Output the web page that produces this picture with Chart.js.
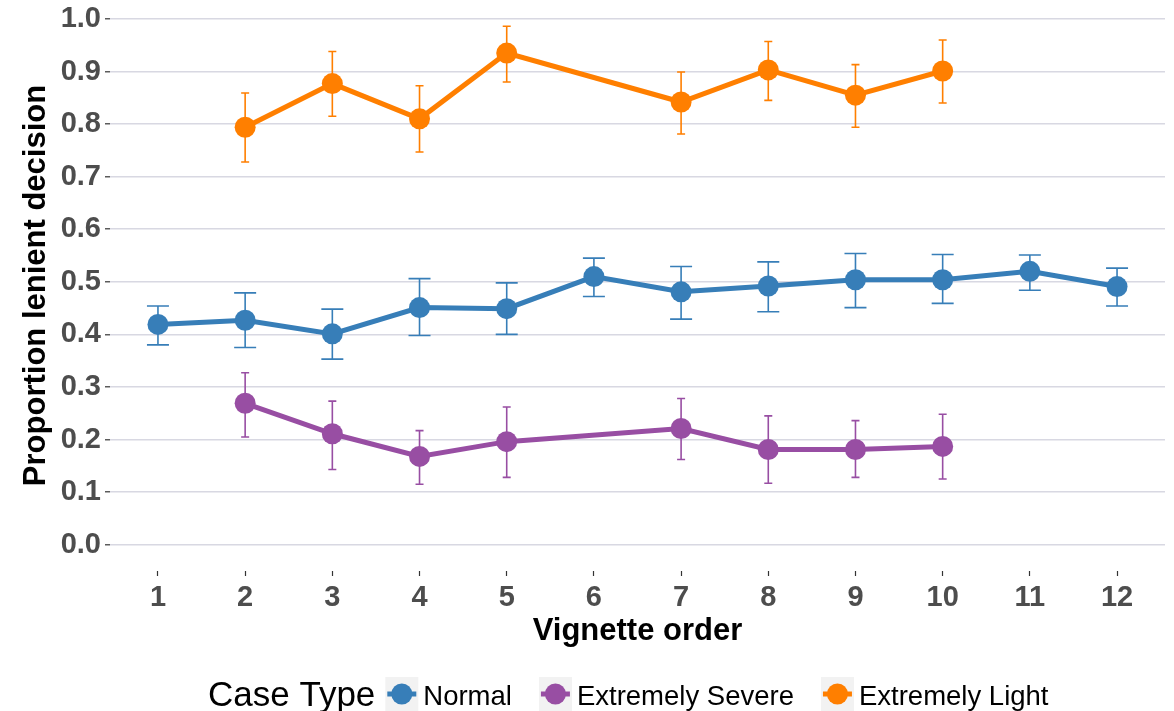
<!DOCTYPE html>
<html>
<head>
<meta charset="utf-8">
<script src="https://cdn.jsdelivr.net/npm/chart.js@4/dist/chart.umd.min.js"></script>
<style>
  html, body { margin: 0; padding: 0; background: #ffffff; }
  #wrap { width: 1174px; height: 711px; }
</style>
</head>
<body>
<div id="wrap"><canvas id="c" width="1174" height="711"></canvas></div>
<script>
// Vignette positions and y-axis ticks
const vignetteOrder = [1, 2, 3, 4, 5, 6, 7, 8, 9, 10, 11, 12];
const yTicks = [0.0, 0.1, 0.2, 0.3, 0.4, 0.5, 0.6, 0.7, 0.8, 0.9, 1.0];

// Normal cases (all 12 positions)
const normalX = [1, 2, 3, 4, 5, 6, 7, 8, 9, 10, 11, 12];
const normalMean = [0.419, 0.427, 0.401, 0.451, 0.449, 0.510, 0.481, 0.492, 0.504, 0.504, 0.520, 0.491];
const normalLow  = [0.380, 0.375, 0.353, 0.398, 0.400, 0.472, 0.429, 0.443, 0.451, 0.459, 0.484, 0.454];
const normalHigh = [0.454, 0.479, 0.448, 0.506, 0.498, 0.545, 0.529, 0.538, 0.554, 0.552, 0.551, 0.526];

// Extremely severe cases
const severeX = [2, 3, 4, 5, 7, 8, 9, 10];
const severeMean = [0.269, 0.211, 0.168, 0.196, 0.221, 0.181, 0.181, 0.187];
const severeLow  = [0.205, 0.143, 0.115, 0.128, 0.162, 0.117, 0.128, 0.125];
const severeHigh = [0.327, 0.273, 0.217, 0.262, 0.278, 0.245, 0.236, 0.248];

// Extremely light cases
const lightX = [2, 3, 4, 5, 7, 8, 9, 10];
const lightMean = [0.794, 0.877, 0.810, 0.935, 0.842, 0.903, 0.855, 0.901];
const lightLow  = [0.728, 0.815, 0.747, 0.880, 0.781, 0.845, 0.794, 0.840];
const lightHigh = [0.859, 0.938, 0.873, 0.986, 0.899, 0.957, 0.913, 0.960];

const FONT = "'Liberation Sans', Arial, sans-serif";

function pts(xs, ys) { return xs.map((x, i) => ({ x: x, y: ys[i] })); }

function series(label, color, xs, mean, low, high, capWidth) {
  return {
    label: label,
    data: pts(xs, mean),
    errLow: low,
    errHigh: high,
    capWidth: capWidth,
    showLine: true,
    borderColor: color,
    backgroundColor: color,
    borderWidth: 5,
    pointRadius: 10.5,
    pointHoverRadius: 10.5,
    pointBorderWidth: 0,
    pointBackgroundColor: color,
    tension: 0
  };
}

// Vertical error bars with caps, drawn through the chart scales
const errorBars = {
  id: 'errorBars',
  beforeDatasetsDraw(chart) {
    const { ctx, scales: { x, y } } = chart;
    ctx.save();
    chart.data.datasets.forEach(ds => {
      ctx.strokeStyle = ds.borderColor;
      ctx.lineWidth = 1.6;
      const half = ds.capWidth / 2;
      ds.data.forEach((p, i) => {
        const px = x.getPixelForValue(p.x);
        const top = y.getPixelForValue(ds.errHigh[i]);
        const bot = y.getPixelForValue(ds.errLow[i]);
        ctx.beginPath();
        ctx.moveTo(px, top); ctx.lineTo(px, bot);
        ctx.moveTo(px - half, top); ctx.lineTo(px + half, top);
        ctx.moveTo(px - half, bot); ctx.lineTo(px + half, bot);
        ctx.stroke();
      });
    });
    ctx.restore();
  }
};

// Horizontal legend with its title on the left
const caseLegend = {
  id: 'caseLegend',
  afterDraw(chart) {
    const ctx = chart.ctx;
    ctx.save();
    ctx.textBaseline = 'alphabetic';
    ctx.textAlign = 'left';
    let xPos = 208;
    ctx.fillStyle = '#000';
    ctx.font = '35px ' + FONT;
    ctx.fillText('Case Type', xPos, 706);
    xPos += ctx.measureText('Case Type').width + 10;
    ctx.font = '27.5px ' + FONT;
    chart.data.datasets.forEach(ds => {
      const boxW = 33, boxTop = 677, boxH = 34;
      ctx.fillStyle = '#f2f2f2';
      ctx.fillRect(xPos, boxTop, boxW, boxH);
      const cy = boxTop + 17, cx = xPos + boxW / 2;
      ctx.strokeStyle = ds.borderColor;
      ctx.lineWidth = 5;
      ctx.beginPath();
      ctx.moveTo(xPos + 2, cy); ctx.lineTo(xPos + boxW - 2, cy);
      ctx.stroke();
      ctx.fillStyle = ds.borderColor;
      ctx.beginPath();
      ctx.arc(cx, cy, 10.5, 0, Math.PI * 2);
      ctx.fill();
      xPos += boxW + 5;
      ctx.fillStyle = '#000';
      ctx.fillText(ds.label, xPos, 705);
      xPos += ctx.measureText(ds.label).width + 27;
    });
    ctx.restore();
  }
};

new Chart(document.getElementById('c'), {
  type: 'scatter',
  data: {
    datasets: [
      series('Normal', '#377eb8', normalX, normalMean, normalLow, normalHigh, 22),
      series('Extremely Severe', '#984ea3', severeX, severeMean, severeLow, severeHigh, 8),
      series('Extremely Light', '#ff7f00', lightX, lightMean, lightLow, lightHigh, 8)
    ]
  },
  options: {
    responsive: false,
    animation: false,
    devicePixelRatio: 1,
    layout: { autoPadding: false, padding: { top: 0, right: 9, bottom: 60, left: 0 } },
    plugins: { legend: { display: false }, tooltip: { enabled: false } },
    scales: {
      x: {
        type: 'linear',
        min: 0.45,
        max: 12.55,
        afterBuildTicks: s => { s.ticks = vignetteOrder.map(v => ({ value: v })); },
        afterFit: s => { s.height = 80; s.paddingLeft = 0; s.paddingRight = 0; },
        border: { display: false },
        grid: { drawOnChartArea: false, drawTicks: true, tickLength: 5, tickColor: '#333333', tickWidth: 1.2 },
        ticks: {
          autoSkip: false, maxRotation: 0, padding: 5,
          color: '#4d4d4d',
          font: { family: FONT, size: 29, weight: 'bold' },
          callback: v => String(v)
        },
        title: {
          display: true, text: 'Vignette order', color: '#000000',
          font: { family: FONT, size: 31, weight: 'bold' },
          padding: { top: 0, bottom: 1 }
        }
      },
      y: {
        type: 'linear',
        min: -0.05,
        max: 1.036,
        afterBuildTicks: s => { s.ticks = yTicks.map(v => ({ value: v })); },
        afterFit: s => { s.width = 110; s.paddingTop = 0; s.paddingBottom = 0; },
        border: { display: false },
        grid: { color: '#d8d8e2', lineWidth: 1.6, drawTicks: true, tickLength: 5, tickColor: '#333333', tickWidth: 1.2 },
        ticks: {
          padding: 4,
          color: '#4d4d4d',
          font: { family: FONT, size: 29, weight: 'bold' },
          callback: v => v.toFixed(1)
        },
        title: {
          display: true, text: 'Proportion lenient decision', color: '#000000',
          font: { family: FONT, size: 31, weight: 'bold' },
          padding: { top: 18, bottom: 0 }
        }
      }
    }
  },
  plugins: [errorBars, caseLegend]
});
</script>
</body>
</html>
